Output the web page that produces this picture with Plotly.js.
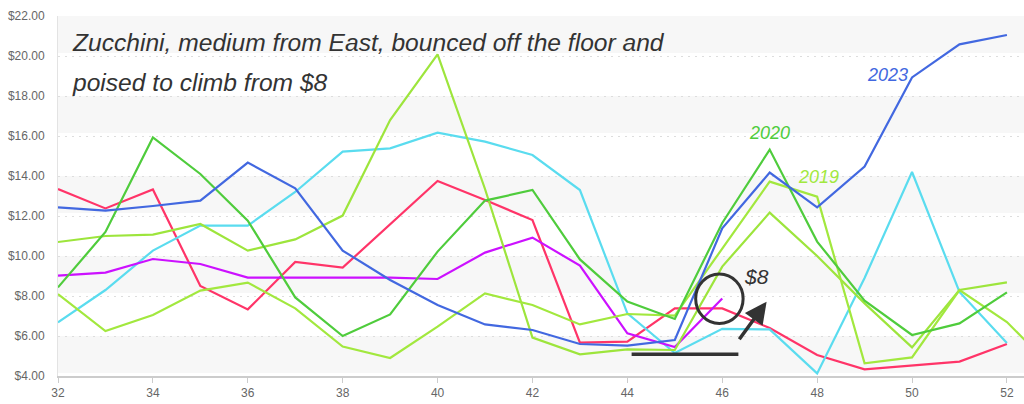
<!DOCTYPE html>
<html>
<head>
<meta charset="utf-8">
<script src="https://cdn.plot.ly/plotly-3.0.1.min.js"></script>
<style>
html,body{margin:0;padding:0;background:#fff;}
#chart{width:1024px;height:404px;}
</style>
</head>
<body>
<div id="chart"></div>
<script>
// Weeks of the year
var weeks = [32,33,34,35,36,37,38,39,40,41,42,43,44,45,46,47,48,49,50,51,52];
var weeksExt = [32,33,34,35,36,37,38,39,40,41,42,43,44,45,46,47,48,49,50,51,52,53];
var weeksPurple = [32,33,34,35,36,37,38,39,40,41,42,43,44,45,46];

// Price series (USD)
var price2023 = [12.43,12.27,12.5,12.77,14.67,13.38,10.27,8.8,7.55,6.58,6.3,5.6,5.52,5.8,11.38,14.17,12.43,14.47,18.93,20.58,21.05];
var price2020 = [8.43,11.2,15.93,14.1,11.77,7.93,6.0,7.08,10.22,12.77,13.3,9.83,7.72,6.85,11.65,15.32,10.72,7.77,6.05,6.63,8.18];
var price2019 = [8.1,6.25,7.05,8.27,8.67,7.38,5.47,4.9,6.47,8.13,7.55,6.58,7.1,7.02,10.37,13.72,12.97,4.63,4.93,8.3,6.7,4.3];
var priceRed = [13.35,12.38,13.33,8.5,7.33,9.7,9.42,11.6,13.75,12.8,11.8,5.67,5.72,7.38,7.38,6.4,5.05,4.33,4.52,4.72,5.6];
var priceCyan = [6.68,8.3,10.27,11.52,11.52,13.2,15.22,15.38,16.17,15.72,15.05,13.3,7.13,5.15,6.36,6.33,4.13,8.9,14.2,8.2,5.65];
var pricePurple = [9.02,9.17,9.85,9.6,8.92,8.92,8.92,8.92,8.85,10.17,10.92,9.52,6.13,5.45,7.87];
var priceLime = [10.7,11.0,11.07,11.6,10.27,10.83,12.02,16.8,20.08,13.35,5.92,5.08,5.33,5.3,9.47,12.17,10.0,7.63,5.43,8.3,8.68];

var yTicks = [4,6,8,10,12,14,16,18,20,22];
var yTickLabels = ['$4.00','$6.00','$8.00','$10.00','$12.00','$14.00','$16.00','$18.00','$20.00','$22.00'];

var titleLine1 = "Zucchini, medium from East, bounced off the floor and";
var titleLine2 = "poised to climb from $8";

function tr(x, y, color, name) {
  return {x: x, y: y, type: 'scatter', mode: 'lines', name: name,
          line: {color: color, width: 2.2}, hoverinfo: 'x+y+name'};
}

var data = [
  tr(weeks, priceRed, '#ff3468', 'Red series'),
  tr(weeks, priceCyan, '#5adcef', 'Cyan series'),
  tr(weeksPurple, pricePurple, '#cc11ff', 'Purple series'),
  tr(weeks, priceLime, '#9de53c', 'Lime series'),
  tr(weeksExt, price2019, '#a2e83e', '2019'),
  tr(weeks, price2020, '#4fcc3c', '2020'),
  tr(weeks, price2023, '#4268e0', '2023')
];

var bands = [];
[4,8,12,16,20].forEach(function(b){
  bands.push({type:'rect', xref:'paper', yref:'y', x0:0, x1:1, y0:b+0.15, y1:b+2,
              fillcolor:'#f7f7f7', line:{width:0}, layer:'below'});
});

var hand = "Liberation Sans";
var shapes = bands.concat([
  {type:'circle', xref:'x', yref:'y', x0:45.44, x1:46.44, y0:6.63, y1:9.1,
   line:{color:'#333', width:3}},
  {type:'line', xref:'x', yref:'y', x0:44.09, x1:46.34, y0:5.085, y1:5.085,
   line:{color:'#333', width:3.5}}
]);

var annotations = [
  {xref:'x', yref:'y', x:32.25, y:20.68, xanchor:'left', yanchor:'middle', showarrow:false,
   text:'<i>'+titleLine1+'</i>', font:{family:hand, size:24.6, color:'#333'}},
  {xref:'x', yref:'y', x:32.25, y:18.68, xanchor:'left', yanchor:'middle', showarrow:false,
   text:'<i>'+titleLine2+'</i>', font:{family:hand, size:24.6, color:'#333'}},
  {xref:'x', yref:'y', x:49.49, y:19.05, showarrow:false, text:'<i>2023</i>',
   font:{family:hand, size:18, color:'#4268e0'}},
  {xref:'x', yref:'y', x:47.0, y:16.15, showarrow:false, text:'<i>2020</i>',
   font:{family:hand, size:18, color:'#4fcc3c'}},
  {xref:'x', yref:'y', x:48.02, y:13.95, showarrow:false, text:'<i>2019</i>',
   font:{family:hand, size:18, color:'#a2e83e'}},
  {xref:'x', yref:'y', x:46.73, y:9.0, showarrow:false, text:'<i>$8</i>',
   font:{family:hand, size:21, color:'#333'}},
  {xref:'x', yref:'y', x:46.935, y:7.715, axref:'x', ayref:'y', ax:46.337, ay:5.765,
   showarrow:true, text:'', arrowhead:2, arrowsize:1.25, arrowwidth:3.5, arrowcolor:'#333', standoff:0}
];

var layout = {
  width:1024, height:404,
  margin:{l:58, r:0, t:16, b:28},
  paper_bgcolor:'#ffffff', plot_bgcolor:'#ffffff',
  showlegend:false,
  font:{family:'Liberation Sans, Arial, sans-serif', color:'#666'},
  xaxis:{range:[32,52.36], tick0:32, dtick:2, showgrid:false, zeroline:false,
         showline:true, linecolor:'#cccccc', linewidth:2, ticks:'outside', ticklen:5,
         tickcolor:'#cccccc', tickwidth:1, tickfont:{size:12, color:'#666'}},
  yaxis:{range:[4,22], tickmode:'array', tickvals:yTicks, ticktext:yTickLabels,
         showgrid:true, gridcolor:'#dddddd', griddash:'2px,5px', gridwidth:1,
         zeroline:false, showline:true, linecolor:'#e3e3e3', linewidth:1,
         ticks:'', ticklabelstandoff:10, tickfont:{size:12, color:'#666'}},
  shapes:shapes,
  annotations:annotations
};

Plotly.newPlot('chart', data, layout, {displayModeBar:false, staticPlot:true});
</script>
</body>
</html>
